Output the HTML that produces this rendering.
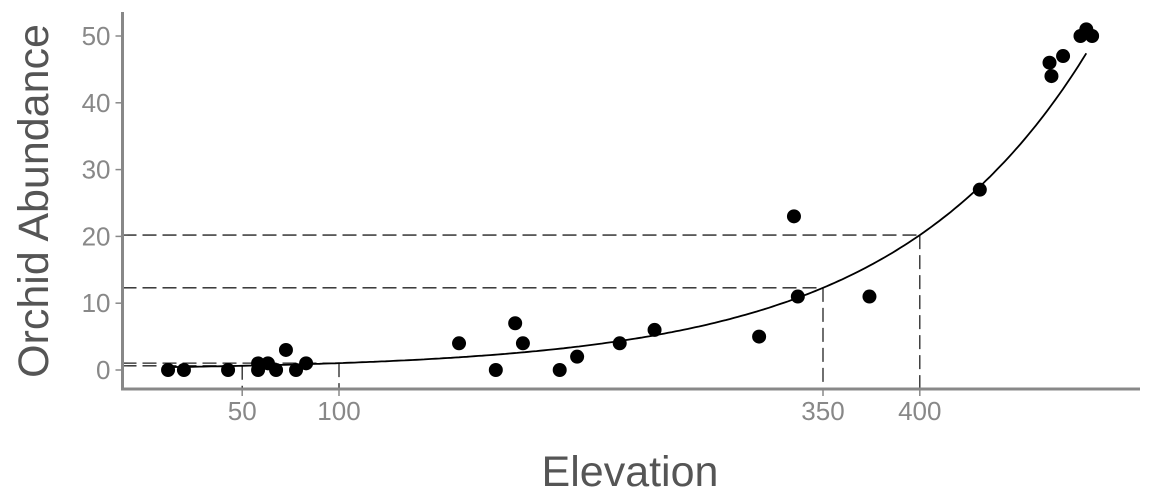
<!DOCTYPE html>
<html><head><meta charset="utf-8"><style>
html,body{margin:0;padding:0;background:#fff;width:1152px;height:504px;overflow:hidden}
text{font-family:"Liberation Sans",Arial,sans-serif}
</style></head><body>
<svg id="chart" width="1152" height="504" xmlns="http://www.w3.org/2000/svg"></svg>
<script>
const elev=[11.7,19.9,42.7,58.2,58.2,63.3,67.5,72.6,77.8,83,162,181,191,195,214,223,245,263,317,335,337,374,431,467,468,474,483,486,489];
const abund=[0,0,0,1,0,1,0,3,0,1,4,0,7,4,0,2,4,6,5,23,11,11,27,46,44,47,50,51,50];
const xTicks=[50,100,350,400];
const yTicks=[0,10,20,30,40,50];
const refX=[50,100,350,400];
const fitA=0.382, fitB=0.00992;
const NS="http://www.w3.org/2000/svg";
const svg=document.getElementById('chart');
const X=v=>145.4+v*1.936;
const Y=v=>370-v*6.68;
const f=v=>fitA*Math.exp(fitB*v);
function mk(t,a){const e=document.createElementNS(NS,t);for(const k in a)e.setAttribute(k,a[k]);svg.appendChild(e);return e;}
const AX=122.5, AY=389;
refX.forEach(v=>{
  let e=mk('line',{x1:AX,x2:X(v),y1:Y(f(v)),y2:Y(f(v)),stroke:'#222','stroke-width':1.3,'stroke-dasharray':'14,6'});
  
  
  e=mk('line',{x1:X(v),x2:X(v),y1:Y(f(v)),y2:AY,stroke:'#222','stroke-width':1.3,'stroke-dasharray':'14,6'});
  
  
});
let d='';for(let v=10;v<=486;v+=2){d+=(d?'L':'M')+X(v).toFixed(1)+','+Y(f(v)).toFixed(1);}
let c=mk('path',{d:d,fill:'none',stroke:'#000','stroke-width':1.8});


elev.forEach((v,i)=>{
  const p=mk('circle',{cx:X(v),cy:Y(abund[i]),r:7,fill:'#000'});
  
  
});
let a=mk('line',{x1:AX,x2:AX,y1:12,y2:AY+1.5,stroke:'#888','stroke-width':3});


a=mk('line',{x1:AX-1.5,x2:1140,y1:AY,y2:AY,stroke:'#888','stroke-width':3});


yTicks.forEach(v=>{
  let t=mk('line',{x1:AX-7,x2:AX,y1:Y(v),y2:Y(v),stroke:'#888','stroke-width':1.5});
  
  
  t=mk('text',{x:AX-12,y:Y(v)+9,'text-anchor':'end','font-size':26,fill:'#888'});
  t.textContent=v;
  
  
});
xTicks.forEach(v=>{
  let t=mk('line',{x1:X(v),x2:X(v),y1:AY,y2:AY+7,stroke:'#888','stroke-width':1.5});
  
  
  t=mk('text',{x:X(v),y:420,'text-anchor':'middle','font-size':26,fill:'#888'});
  t.textContent=v;
  
  
});
let t=mk('text',{x:630,y:486,'text-anchor':'middle','font-size':43,fill:'#555'});
t.textContent='Elevation';


t=mk('text',{x:0,y:0,'text-anchor':'middle','font-size':43,fill:'#555',transform:'translate(48,201) rotate(-90)'});
t.textContent='Orchid Abundance';


</script>
</body></html>
